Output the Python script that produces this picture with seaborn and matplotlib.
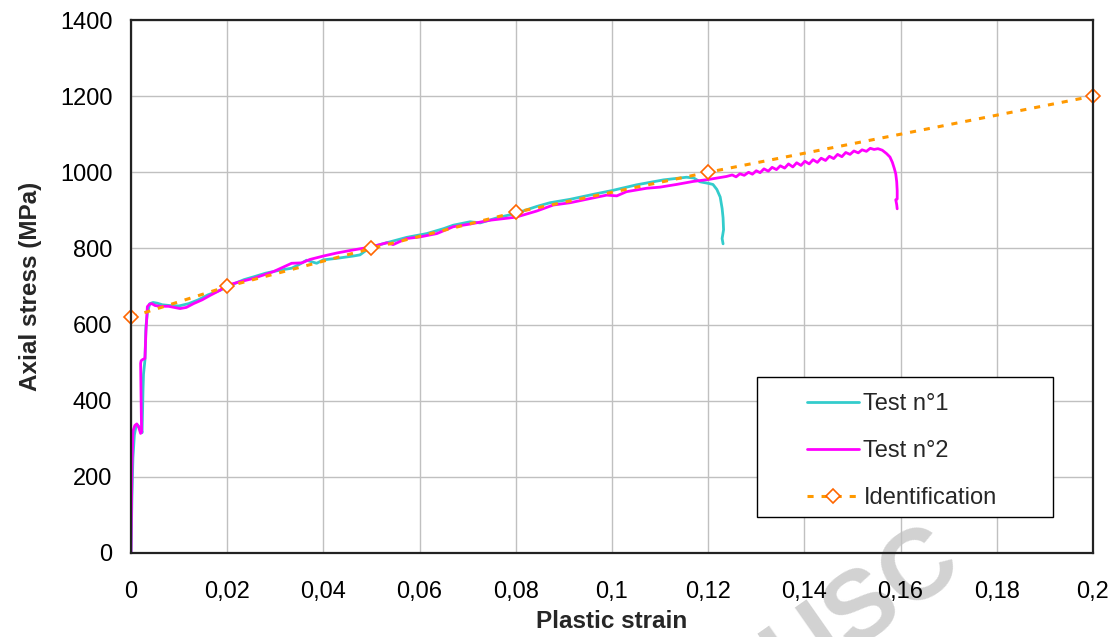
import matplotlib
matplotlib.use("Agg")
import matplotlib.pyplot as plt
import seaborn as sns
from matplotlib.patches import Rectangle

# Test n°1 (cyan curve)
strain_1 = [0.0000, 0.0002, 0.0004, 0.0007, 0.0010, 0.0014, 0.0018, 0.0021,
            0.0023, 0.0025, 0.0026, 0.0029, 0.0031, 0.0034, 0.0039, 0.0046,
            0.0055, 0.0065, 0.0080, 0.0100, 0.0120, 0.0140, 0.0160, 0.0185,
            0.0210, 0.0235, 0.0254, 0.0280, 0.0310, 0.0334, 0.0350, 0.0365,
            0.0386, 0.0400, 0.0428, 0.0462, 0.0476, 0.0490, 0.0500, 0.0532,
            0.0573, 0.0615, 0.0650, 0.0670, 0.0705, 0.0726, 0.0760, 0.0800,
            0.0843, 0.0871, 0.0913, 0.0961, 0.1000, 0.1051, 0.1107, 0.1155,
            0.1170, 0.1183, 0.1200, 0.1210, 0.1218, 0.1225, 0.1229, 0.1231,
            0.1232, 0.1229, 0.1231]
stress_1 = [0, 150, 250, 310, 330, 336, 330, 325,
            316, 430, 470, 507, 594, 630, 655, 658,
            656, 652, 650, 649, 655, 665, 678, 690,
            705, 718, 725, 735, 743, 748, 758, 769,
            761, 770, 774, 780, 783, 796, 804, 815,
            829, 839, 852, 861, 870, 867, 880, 892,
            910, 920, 929, 942, 952, 967, 980, 987,
            985, 975, 971, 968, 955, 935, 905, 880,
            849, 826, 812]

# Test n°2 (magenta curve)
strain_2 = [0.0000, 0.0001, 0.0002, 0.0004, 0.0008, 0.0012, 0.0016, 0.0020,
            0.0022, 0.0021, 0.0020, 0.0021, 0.0024, 0.0029, 0.0031, 0.0034,
            0.0038, 0.0043, 0.0050, 0.0060, 0.0078, 0.0090, 0.0102, 0.0115,
            0.0130, 0.0148, 0.0165, 0.0185, 0.0200, 0.0225, 0.0254, 0.0296,
            0.0334, 0.0355, 0.0372, 0.0400, 0.0428, 0.0462, 0.0500, 0.0532,
            0.0545, 0.0573, 0.0600, 0.0636, 0.0670, 0.0705, 0.0746, 0.0800,
            0.0843, 0.0878, 0.0913, 0.0947, 0.0989, 0.1010, 0.1030, 0.1072,
            0.1100, 0.1134, 0.1169, 0.1200, 0.1238, 0.1250, 0.1258, 0.1266,
            0.1275, 0.1284, 0.1292, 0.1300, 0.1308, 0.1316, 0.1325, 0.1333,
            0.1342, 0.1350, 0.1359, 0.1367, 0.1376, 0.1384, 0.1393, 0.1401,
            0.1410, 0.1418, 0.1427, 0.1435, 0.1444, 0.1452, 0.1461, 0.1469,
            0.1478, 0.1486, 0.1495, 0.1503, 0.1512, 0.1520, 0.1529, 0.1537,
            0.1545, 0.1553, 0.1562, 0.1571, 0.1578, 0.1583, 0.1587, 0.1590,
            0.1592, 0.1593, 0.1593, 0.1590, 0.1592, 0.1593]
stress_2 = [0, 120, 230, 320, 335, 339, 330, 314,
            318, 400, 498, 505, 508, 511, 580, 647,
            653, 655, 650, 648, 648, 645, 642, 645,
            655, 665, 677, 690, 703, 712, 721, 739,
            761, 762, 771, 780, 788, 796, 804, 815,
            810, 826, 830, 839, 857, 864, 874, 882,
            898, 914, 920, 929, 940, 938, 949, 958,
            961, 968, 976, 981, 989, 993, 988, 996,
            992, 1000, 995, 1004, 999, 1009, 1003, 1013,
            1007, 1017, 1011, 1022, 1014, 1025, 1018, 1029,
            1022, 1033, 1026, 1037, 1031, 1042, 1036, 1047,
            1041, 1052, 1047, 1056, 1051, 1059, 1055, 1063,
            1060, 1062, 1058, 1049, 1040, 1026, 1010, 996,
            975, 952, 930, 928, 915, 904]

# Identification (model)
strain_id = [0.0, 0.02, 0.05, 0.08, 0.12, 0.2]
stress_id = [620, 700, 800, 895, 1000, 1200]

x_ticks = [0, 0.02, 0.04, 0.06, 0.08, 0.1, 0.12, 0.14, 0.16, 0.18, 0.2]
x_tick_labels = ["0", "0,02", "0,04", "0,06", "0,08", "0,1", "0,12",
                 "0,14", "0,16", "0,18", "0,2"]
y_ticks = [0, 200, 400, 600, 800, 1000, 1200, 1400]

sns.set_style("white")
plt.rcParams['font.family'] = ['Liberation Sans', 'DejaVu Sans']
FS = 17

fig = plt.figure(figsize=(11.14, 6.37), dpi=100)
ax = fig.add_axes([0.1176, 0.1319, 0.8635, 0.8367])
ax.patch.set_alpha(0)

# faint watermark behind the chart (only partly visible in the original)
fig.text(0.775, 0.045, "USC", rotation=35, fontsize=72, fontweight='bold',
         color='#d2d2d2', ha='center', va='center', zorder=-1)

sns.lineplot(x=strain_1, y=stress_1, sort=False, estimator=None, ax=ax,
             color='#33CCCC', lw=2.0, label="Test n°1")
sns.lineplot(x=strain_2, y=stress_2, sort=False, estimator=None, ax=ax,
             color='#FF00FF', lw=2.0, label="Test n°2")
sns.lineplot(x=strain_id, y=stress_id, sort=False, estimator=None, ax=ax,
             color='#FF9900', lw=2.2, linestyle=(0, (2, 2.6)),
             marker='D', markersize=7, markerfacecolor='white',
             markeredgecolor='#FF6600', markeredgewidth=1.2,
             clip_on=False, label="Identification")

ax.set_xlim(0, 0.2)
ax.set_ylim(0, 1400)
ax.set_xticks(x_ticks)
ax.set_xticklabels(x_tick_labels)
ax.set_yticks(y_ticks)
ax.grid(True, color='#C0C0C0', lw=1.0)
for s in ax.spines.values():
    s.set_color('#222222')
    s.set_linewidth(1.6)
ax.tick_params(axis='both', direction='out', length=6, width=1,
               color='#333333', labelsize=FS, labelcolor='black')
ax.tick_params(axis='x', pad=14)
ax.tick_params(axis='y', pad=7.5)

ax.set_xlabel("Plastic strain", fontsize=17.5, fontweight='bold')
ax.set_ylabel("Axial stress (MPa)", fontsize=17.5, fontweight='bold')
ax.xaxis.set_label_coords(0.5, -0.107)
ax.yaxis.set_label_coords(-0.0925, 0.5)

# legend box
bx0, by0, bw, bh = 0.6504, 0.067, 0.3076, 0.2626
ax.add_patch(Rectangle((bx0, by0), bw, bh, transform=ax.transAxes,
                       facecolor='white', edgecolor='black', lw=1.0,
                       zorder=5))
leg = ax.legend(loc='center',
                bbox_to_anchor=(bx0 + bw / 2 - 0.003, by0 + bh / 2 - 0.0075),
                frameon=False, fontsize=FS, handlelength=2.2,
                handletextpad=0.2, labelspacing=1.05, borderpad=0)
leg.set_zorder(6)

fig.savefig("out.png", dpi=100)
